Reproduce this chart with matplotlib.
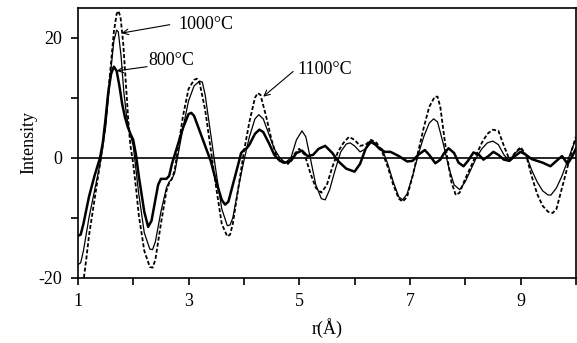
import numpy as np
import matplotlib
matplotlib.use('Agg')
import matplotlib.pyplot as plt

plt.rcParams['font.family'] = ['Liberation Serif', 'DejaVu Serif']

# 1100 C (dashed)
r_1100 = [1.08, 1.15, 1.2, 1.3, 1.4, 1.45, 1.5, 1.55, 1.6, 1.65, 1.7, 1.73, 1.77, 1.82, 1.87,
          1.92, 1.95, 2.0, 2.05, 2.1, 2.2, 2.3, 2.35, 2.4, 2.5, 2.6, 2.65, 2.7, 2.75, 2.8,
          2.9, 3.0, 3.1, 3.15, 3.2, 3.3, 3.4, 3.5, 3.6, 3.7, 3.75, 3.8, 3.9, 4.0, 4.1,
          4.2, 4.25, 4.3, 4.4, 4.5, 4.6, 4.7, 4.8, 4.9, 5.0, 5.1, 5.2, 5.3, 5.4, 5.5,
          5.6, 5.7, 5.8, 5.9, 6.0, 6.1, 6.2, 6.3, 6.4, 6.5, 6.6, 6.7, 6.8, 6.87, 6.95,
          7.05, 7.15, 7.25, 7.35, 7.45, 7.5, 7.55, 7.65, 7.75, 7.83, 7.9, 8.0, 8.1, 8.2,
          8.3, 8.4, 8.5, 8.6, 8.7, 8.8, 8.9, 9.0, 9.1, 9.2, 9.3, 9.4, 9.5, 9.58, 9.65,
          9.75, 9.85, 9.95, 10.0]
i_1100 = [-22, -17, -13, -7, -1, 2, 6, 11, 16, 21, 24, 24.5, 23.5, 19, 12,
          5, 2, -1, -5, -9.5, -15.5, -18.2, -18.3, -17, -11, -5.5, -4.2, -3.5, -2, 1,
          7, 11.5, 13, 13.2, 12.5, 8, 1.5, -5, -11, -13.1, -12.8, -11, -5, 1, 6,
          10, 10.8, 10.5, 7, 3, 0, -0.8, -1, 0.5, 1.5, 0.5, -2.5, -5, -5.8, -4.5,
          -1.5, 1, 2.5, 3.5, 3, 2, 2.2, 3, 2.5, 1, -1.5, -4.5, -6.8, -7.3, -6.5,
          -3, 1, 5, 8.5, 10.2, 10.2, 8.5, 1.5, -4, -6.2, -5.8, -3.5, -1.5, 0.5,
          2.5, 4, 4.7, 4.5, 2, -0.3, 0.8, 1.8, 0.5, -3, -6, -8, -9, -9.2, -8.5,
          -5, -1.5, 2, 3.5]

# 1000 C (thin solid)
r_1000 = [1.0, 1.05, 1.1, 1.2, 1.3, 1.4, 1.5, 1.55, 1.6, 1.65, 1.7, 1.73, 1.78, 1.83, 1.88,
          1.93, 2.0, 2.05, 2.1, 2.2, 2.3, 2.35, 2.4, 2.5, 2.6, 2.65, 2.7, 2.75, 2.8, 2.9,
          3.0, 3.1, 3.2, 3.25, 3.3, 3.4, 3.5, 3.6, 3.7, 3.75, 3.8, 3.9, 4.0, 4.1, 4.2,
          4.27, 4.35, 4.45, 4.55, 4.65, 4.75, 4.85, 4.95, 5.05, 5.12, 5.2, 5.3, 5.4, 5.47, 5.55,
          5.65, 5.75, 5.85, 5.92, 6.0, 6.1, 6.2, 6.3, 6.4, 6.5, 6.6, 6.7, 6.8, 6.87, 6.95,
          7.05, 7.15, 7.25, 7.35, 7.43, 7.5, 7.6, 7.7, 7.8, 7.9, 8.0, 8.1, 8.2, 8.3, 8.4,
          8.5, 8.6, 8.7, 8.8, 8.9, 9.0, 9.1, 9.2, 9.3, 9.4, 9.5, 9.55, 9.65, 9.75, 9.85,
          9.95, 10.0]
i_1000 = [-17.8, -17.5, -15.5, -10, -5.5, -1, 5, 10, 15, 19.5, 21.3, 21, 17, 11, 7,
          4.5, 2, -2, -6, -12.5, -15.2, -15.3, -14, -9, -5, -4, -3.5, -2.5, 0, 5,
          9.5, 12, 12.8, 12.6, 10.5, 4, -2.5, -8.5, -11.3, -11.2, -10, -5, -0.5, 3.5, 6.5,
          7.2, 6.5, 4, 1.5, 0, -0.8, 0, 3, 4.5, 3.5, 0, -4.5, -6.8, -7, -5.3,
          -2, 1, 2.3, 2.5, 2, 1, 1.5, 2.5, 2, 1.5, -1, -4, -6.5, -7, -6,
          -3, 0.5, 3.5, 5.8, 6.5, 6, 2.5, -1.5, -4.5, -5.3, -4, -2, 0, 1.5, 2.5,
          2.8, 2.2, 0.5, -0.5, 0.8, 1.5, 0.5, -2, -4, -5.5, -6.2, -6.2, -5, -3, -0.5,
          2, 3]

# 800 C (thick solid)
r_800 = [1.0, 1.05, 1.1, 1.2, 1.3, 1.4, 1.45, 1.5, 1.55, 1.6, 1.65, 1.7, 1.75, 1.8, 1.85,
         1.9, 1.95, 2.0, 2.05, 2.1, 2.2, 2.27, 2.33, 2.4, 2.45, 2.5, 2.6, 2.65, 2.7, 2.8,
         2.9, 3.0, 3.05, 3.1, 3.2, 3.3, 3.4, 3.5, 3.6, 3.66, 3.72, 3.8, 3.9, 3.95, 4.0,
         4.05, 4.1, 4.2, 4.28, 4.35, 4.45, 4.55, 4.65, 4.75, 4.85, 4.95, 5.05, 5.15, 5.25, 5.35,
         5.47, 5.6, 5.7, 5.85, 6.0, 6.1, 6.2, 6.28, 6.35, 6.45, 6.55, 6.65, 6.8, 6.95, 7.05,
         7.15, 7.27, 7.35, 7.46, 7.55, 7.62, 7.7, 7.8, 7.88, 7.97, 8.05, 8.15, 8.25, 8.33, 8.42,
         8.51, 8.6, 8.7, 8.8, 8.9, 9.0, 9.1, 9.2, 9.3, 9.4, 9.54, 9.65, 9.75, 9.85, 9.92,
         10.0]
i_800 = [-13, -12.8, -11, -6.5, -3, 0, 2.5, 6.5, 11, 14, 15.2, 14.5, 12, 9, 6.8,
         5.2, 4, 3, 0.5, -3, -9, -11.5, -10.5, -7, -4.5, -3.5, -3.5, -3, -1, 2,
         5, 7.3, 7.5, 7, 4.5, 2, -0.5, -4, -7, -7.8, -7.3, -4.5, -1, 0.8, 1.3,
         1.6, 2.2, 4, 4.7, 4.3, 2.5, 0.5, -0.5, -0.8, -0.5, 0.8, 1.2, 0.3, 0.5, 1.5,
         2, 0.8, -0.5, -1.8, -2.3, -1, 1.5, 2.7, 2.5, 1.5, 1.0, 1.0, 0.3, -0.6, -0.5,
         0.5, 1.3, 0.5, -0.9, -0.3, 0.8, 1.6, 0.8, -0.8, -1.4, -0.5, 0.9, 0.5, -0.3, 0.3,
         1.0, 0.5, -0.3, -0.5, 0.3, 1, 0.5, -0.2, -0.5, -0.8, -1.4, -0.5, 0.3, -1, 0,
         1.5]

xticks = [1, 2, 3, 4, 5, 6, 7, 8, 9, 10]
xticklabels = ['1', '', '3', '', '5', '', '7', '', '9', '']
yticks = [-20, -10, 0, 10, 20]
yticklabels = ['-20', '', '0', '', '20']

fig = plt.figure(figsize=(5.77, 3.43), dpi=100)
ax = fig.add_axes([0.135, 0.19, 0.863, 0.787])

ax.axhline(0, color='black', lw=1.2)
ax.plot(r_1100, i_1100, color='black', lw=1.3, ls=(0, (2.2, 1.2)))
ax.plot(r_1000, i_1000, color='black', lw=0.9)
ax.plot(r_800, i_800, color='black', lw=1.8)

ax.set_xlim(1, 10)
ax.set_ylim(-20, 25)
ax.set_xticks(xticks)
ax.set_xticklabels(xticklabels)
ax.set_yticks(yticks)
ax.set_yticklabels(yticklabels)
ax.tick_params(direction='out', length=5, width=1.2, labelsize=13, pad=6)
for s in ax.spines.values():
    s.set_linewidth(1.2)

ax.set_xlabel('r(Å)', fontsize=13, labelpad=6)
ax.set_ylabel('Intensity', fontsize=13, labelpad=1)

arr = dict(arrowstyle='->', color='black', lw=0.8, shrinkA=0, shrinkB=0)
ax.annotate('', xy=(1.79, 20.8), xytext=(2.66, 22.2), arrowprops=arr)
ax.text(2.81, 22.3, '1000°C', fontsize=13, va='center', ha='left')
ax.annotate('', xy=(1.70, 14.5), xytext=(2.25, 15.2), arrowprops=arr)
ax.text(2.27, 16.3, '800°C', fontsize=13, va='center', ha='left')
ax.annotate('', xy=(4.35, 10.2), xytext=(4.89, 14.4), arrowprops=arr)
ax.text(4.96, 14.7, '1100°C', fontsize=13, va='center', ha='left')

plt.savefig('out.png', dpi=100)
